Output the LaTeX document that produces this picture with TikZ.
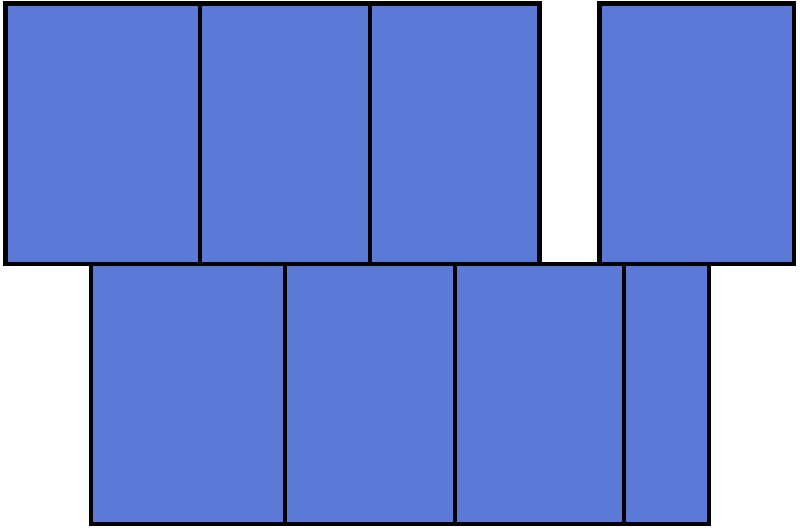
\documentclass[tikz,border=0pt]{standalone}
\definecolor{blockblue}{RGB}{91,121,214}
\begin{document}
\begin{tikzpicture}[x=1pt,y=-1pt,
  block/.style={fill=blockblue,draw=black,line width=4.6pt}]
\useasboundingbox (0,0) rectangle (800,528);
% top row
\draw[block] (5.5,3.5) rectangle (200,264);
\draw[block] (200,3.5) rectangle (370,264);
\draw[block] (370,3.5) rectangle (539.5,264);
\draw[block] (599.5,3.5) rectangle (794,264);
% bottom row
\draw[block] (91,264) rectangle (285,524);
\draw[block] (285,264) rectangle (455,524);
\draw[block] (455,264) rectangle (624,524);
\draw[block] (624,264) rectangle (709,524);
\end{tikzpicture}
\end{document}
